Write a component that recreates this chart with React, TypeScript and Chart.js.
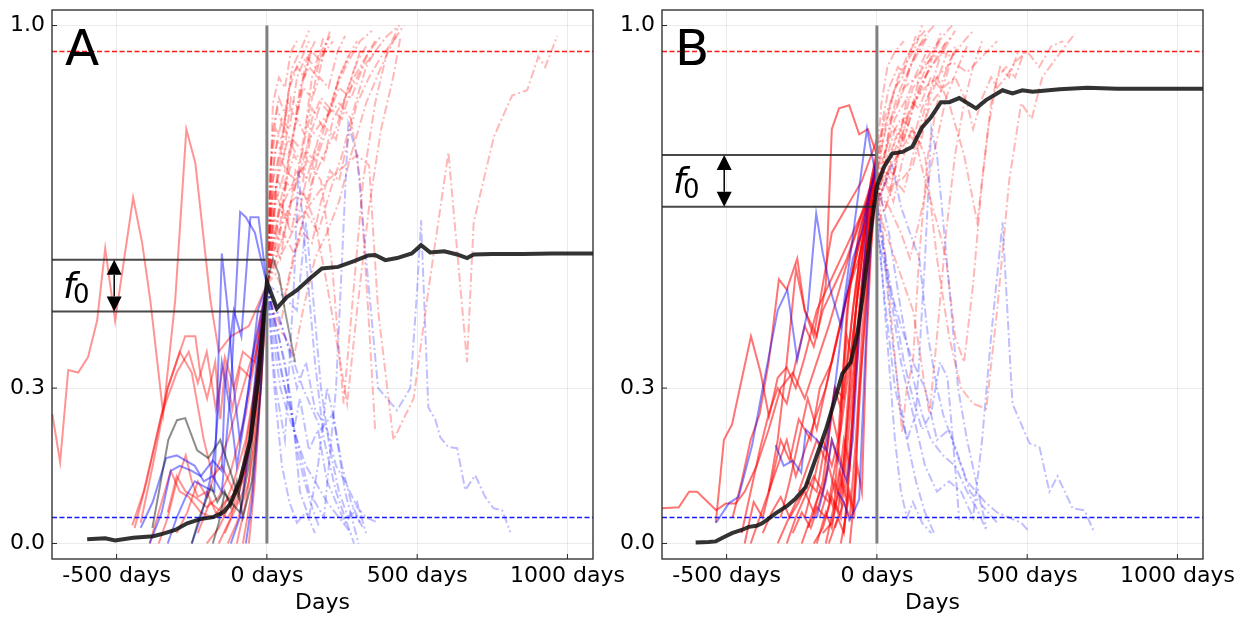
import React, { useEffect, useRef } from "react";
import { Chart, registerables } from "chart.js";
Chart.register(...registerables);

type P = [number, number];

const X_TICKS = [-500, 0, 500, 1000];
const Y_TICKS = [0, 0.3, 1.0];
const X_MIN = -715;
const X_MAX = 1085;
const Y_MIN = -0.03;
const Y_MAX = 1.03;
const UPPER = 0.95;
const LOWER = 0.05;
const F0_A = [0.548, 0.448];
const F0_B = [0.75, 0.65];
const ARROW_DAY = -508;

// ---------- Panel A ----------
const A_RED_PRE: P[][] = [
  [[-714,0.25],[-688,0.157],[-661,0.335],[-628,0.33],[-595,0.36],[-565,0.43],[-538,0.57],[-505,0.43],[-445,0.668],[-415,0.58],[-388,0.47],[-345,0.25],[-305,0.47],[-268,0.8],[-238,0.734],[-188,0.47],[-160,0.37],[-120,0.4],[-60,0.42],[0,0.5]],
  [[-420,0.04],[-380,0.15],[-330,0.3],[-272,0.4],[-238,0.4],[-222,0.33],[-199,0.28],[-172,0.35],[-155,0.24],[-139,0.34],[-115,0.26],[-89,0.34],[-55,0.32],[-25,0.4],[0,0.5]],
  [[-440,0.03],[-400,0.12],[-350,0.25],[-300,0.33],[-260,0.37],[-230,0.31],[-200,0.37],[-170,0.26],[-140,0.36],[-110,0.3],[-80,0.37],[-40,0.35],[0,0.5]],
  [[-390,0.0],[-350,0.08],[-320,0.14],[-290,0.1],[-260,0.09],[-220,0.06],[-180,0.05],[-140,0.08],[-100,0.1],[-50,0.2],[0,0.5]],
  [[-330,0.06],[-300,0.13],[-270,0.1],[-240,0.09],[-200,0.07],[-160,0.09],[-120,0.14],[-70,0.25],[0,0.5]],
  [[-448,0.035],[-410,0.1],[-370,0.2],[-330,0.3],[-290,0.37],[-250,0.33],[-210,0.2],[-180,0.13],[-150,0.15],[-110,0.1],[-70,0.14],[-30,0.3],[0,0.5]],
  [[-360,0.0],[-330,0.05],[-300,0.12],[-270,0.17],[-250,0.12],[-230,0.09],[-200,0.1],[-170,0.06],[-130,0.05],[-100,0.08],[-60,0.18],[0,0.5]],
  [[-160,0.0],[-120,0.05],[-80,0.15],[-40,0.3],[0,0.5]],
  [[-130,0.0],[-100,0.04],[-60,0.12],[-30,0.28],[0,0.5]],
  [[-100,0.0],[-70,0.08],[-40,0.2],[0,0.5]],
  [[-200,0.0],[-160,0.03],[-120,0.08],[-80,0.12],[-40,0.25],[0,0.5]],
  [[-80,0.0],[-50,0.1],[-20,0.3],[0,0.5]],
  [[-230,0.02],[-190,0.08],[-150,0.06],[-110,0.12],[-70,0.2],[-35,0.32],[0,0.5]],
  [[-300,0.02],[-265,0.06],[-230,0.12],[-200,0.09],[-170,0.14],[-130,0.2],[-90,0.28],[-50,0.36],[0,0.5]],
  [[-140,0.02],[-110,0.06],[-80,0.1],[-55,0.2],[-25,0.36],[0,0.5]],
  [[-60,0.0],[-40,0.12],[-20,0.3],[0,0.5]],
];

const A_BLUE_PRE: P[][] = [
  [[-420,0.03],[-380,0.08],[-335,0.165],[-300,0.17],[-270,0.16],[-240,0.15],[-210,0.12],[-180,0.13],[-150,0.1],[-120,0.3],[-89,0.64],[-70,0.63],[-40,0.6],[0,0.5]],
  [[-390,0.0],[-350,0.06],[-320,0.14],[-290,0.15],[-250,0.14],[-220,0.13],[-180,0.16],[-150,0.14],[-140,0.3],[-110,0.45],[-85,0.4],[-55,0.63],[-28,0.63],[0,0.5]],
  [[-330,0.0],[-300,0.05],[-270,0.09],[-240,0.12],[-210,0.11],[-175,0.1],[-150,0.56],[-130,0.45],[-110,0.3],[-90,0.2],[-60,0.3],[-30,0.45],[0,0.5]],
  [[-250,0.0],[-220,0.05],[-190,0.12],[-170,0.2],[-150,0.35],[-120,0.25],[-100,0.15],[-80,0.22],[-50,0.35],[0,0.5]],
  [[-70,0.0],[-50,0.08],[-30,0.22],[0,0.5]],
  [[-120,0.0],[-90,0.05],[-60,0.18],[-35,0.35],[0,0.5]],
];

const A_GRAY_PRE: P[][] = [
  [[-381,0.03],[-328,0.2],[-299,0.238],[-272,0.242],[-232,0.18],[-195,0.165],[-155,0.2],[-122,0.14],[-95,0.09],[-60,0.2],[-30,0.35],[0,0.5]],
  [[-250,0.0],[-225,0.05],[-205,0.08],[-185,0.11],[-165,0.08],[-145,0.1],[-120,0.08],[-90,0.06],[-60,0.15],[-30,0.3],[0,0.5]],
  [[-180,0.0],[-160,0.04],[-140,0.1],[-120,0.07],[-100,0.12],[-80,0.05],[-50,0.12],[-20,0.3],[0,0.5]],
];

const A_GRAY_POST: P[][] = [
  [[0,0.5],[20,0.55],[40,0.52],[60,0.45],[94,0.35]],
];

const A_RED_POST: P[][] = [
  [[0,0.5],[100,0.62],[200,0.7],[300,0.75],[340,0.73],[370,0.45],[421,0.2],[488,0.28],[540,0.5],[604,0.755],[666,0.35],[688,0.62],[755,0.785],[816,0.865],[866,0.875],[903,0.94],[926,0.92],[966,0.98]],
  [[0,0.5],[40,0.64],[90,0.7],[140,0.74],[180,0.7],[215,0.55],[255,0.27],[290,0.5],[320,0.7],[360,0.85],[400,0.95],[440,1.0]],
  [[0,0.5],[15,0.7],[35,0.78],[55,0.74],[80,0.86],[105,0.84],[130,0.93],[160,0.97]],
  [[0,0.5],[20,0.62],[40,0.75],[65,0.72],[90,0.8],[120,0.88],[150,0.86],[180,0.95],[210,0.98]],
  [[0,0.5],[10,0.6],[30,0.68],[50,0.64],[75,0.76],[100,0.82],[125,0.79],[150,0.9],[180,0.94],[220,0.97]],
  [[0,0.5],[20,0.8],[40,0.86],[60,0.83],[85,0.92],[110,0.95],[140,0.99]],
  [[0,0.5],[25,0.57],[45,0.66],[70,0.62],[95,0.72],[120,0.7],[150,0.8],[180,0.85],[210,0.83],[240,0.9],[270,0.94],[300,0.97]],
  [[0,0.5],[15,0.65],[40,0.72],[60,0.8],[85,0.77],[110,0.88],[140,0.92],[170,0.9],[200,0.97]],
  [[0,0.5],[30,0.55],[55,0.64],[80,0.6],[110,0.68],[140,0.66],[170,0.75],[200,0.8],[230,0.78],[260,0.86],[300,0.9],[340,0.95],[380,0.98]],
  [[0,0.5],[20,0.7],[45,0.76],[70,0.85],[95,0.82],[120,0.9],[150,0.95],[180,0.93],[210,0.99]],
  [[0,0.5],[25,0.6],[50,0.58],[80,0.66],[110,0.72],[140,0.7],[170,0.78],[210,0.84],[250,0.82],[290,0.9],[330,0.94],[360,0.97]],
  [[0,0.5],[10,0.72],[30,0.8],[50,0.78],[75,0.88],[100,0.92],[125,0.9],[150,0.96]],
  [[0,0.5],[30,0.62],[60,0.7],[90,0.68],[120,0.76],[160,0.74],[200,0.82],[240,0.88],[280,0.86],[320,0.92],[360,0.95],[400,0.98],[440,1.0]],
  [[0,0.5],[20,0.58],[45,0.55],[70,0.64],[100,0.62],[130,0.7],[160,0.76],[190,0.74],[220,0.82],[260,0.86],[300,0.93],[330,0.96]],
  [[0,0.5],[15,0.66],[35,0.7],[60,0.68],[85,0.78],[115,0.76],[145,0.85],[175,0.9],[205,0.88],[235,0.95],[260,0.98]],
  [[0,0.5],[25,0.75],[50,0.82],[75,0.8],[100,0.9],[130,0.94],[160,0.92],[190,0.98]],
  [[0,0.5],[30,0.52],[60,0.48],[90,0.56],[120,0.6],[150,0.58],[180,0.66],[210,0.72],[240,0.7],[270,0.78],[300,0.85],[340,0.9],[380,0.94],[420,0.97],[455,1.0]],
  [[0,0.5],[20,0.64],[40,0.6],[65,0.7],[90,0.75],[120,0.72],[150,0.82],[180,0.86],[210,0.84],[240,0.9],[280,0.95]],
  [[0,0.5],[30,0.66],[60,0.72],[100,0.7],[140,0.78],[190,0.82],[240,0.85],[280,0.82],[310,0.7],[340,0.42],[360,0.22]],
  [[0,0.5],[40,0.6],[80,0.66],[120,0.68],[160,0.62],[200,0.5],[267,0.27],[300,0.45],[340,0.65],[380,0.8],[420,0.9],[445,0.98]],
  [[0,0.5],[30,0.42],[60,0.4],[90,0.36],[120,0.45],[160,0.55],[200,0.6],[240,0.66],[280,0.75],[330,0.85],[380,0.92],[430,0.98]],
  [[0,0.5],[20,0.45],[45,0.42],[70,0.5],[110,0.6],[150,0.7],[190,0.75],[230,0.8],[270,0.88],[310,0.95]],
  [[0,0.5],[20,0.85],[40,0.9],[60,0.88],[80,0.95],[100,0.97]],
  [[0,0.5],[35,0.7],[70,0.78],[110,0.74],[150,0.84],[190,0.8],[230,0.88],[270,0.93],[310,0.97],[350,0.99]],
  [[0,0.5],[25,0.54],[55,0.6],[90,0.56],[130,0.64],[170,0.6],[210,0.68],[250,0.75],[290,0.84],[330,0.92],[360,0.95]],
  [[0,0.5],[15,0.76],[35,0.84],[55,0.8],[80,0.9],[110,0.93],[140,0.97]],
];

const A_BLUE_POST: P[][] = [
  [[0,0.5],[40,0.35],[100,0.2],[140,0.1],[190,0.05],[230,0.3],[271,0.81],[300,0.75],[330,0.55],[370,0.3],[433,0.257],[477,0.3],[500,0.49],[513,0.624],[537,0.263],[560,0.24],[577,0.205],[604,0.186],[633,0.184],[660,0.103],[693,0.132],[726,0.09],[754,0.068],[783,0.064],[810,0.022]],
  [[0,0.5],[30,0.3],[60,0.2],[90,0.5],[105,0.72],[130,0.55],[160,0.35],[190,0.2],[230,0.1],[260,0.05],[290,0.0]],
  [[0,0.5],[20,0.4],[45,0.3],[70,0.25],[100,0.2],[130,0.15],[160,0.12],[200,0.08],[240,0.05],[280,0.02]],
  [[0,0.5],[30,0.42],[60,0.35],[90,0.22],[110,0.28],[140,0.18],[170,0.22],[200,0.12],[230,0.08],[260,0.04],[290,0.06],[320,0.03]],
  [[0,0.5],[25,0.3],[50,0.15],[75,0.08],[100,0.04],[130,0.06],[160,0.02]],
  [[0,0.5],[35,0.45],[70,0.38],[100,0.3],[130,0.35],[160,0.26],[200,0.22],[230,0.15],[260,0.12],[300,0.07],[330,0.05],[370,0.04]],
  [[0,0.5],[40,0.4],[80,0.28],[110,0.1],[140,0.05],[170,0.15],[200,0.3],[220,0.25],[250,0.15],[280,0.08],[310,0.04]],
  [[0,0.5],[50,0.48],[100,0.45],[130,0.62],[150,0.5],[180,0.3],[210,0.18],[240,0.1],[270,0.05],[300,0.08],[330,0.02]],
  [[0,0.5],[60,0.4],[120,0.3],[180,0.22],[220,0.25],[260,0.1],[305,0.0]],
  [[0,0.5],[20,0.44],[40,0.36],[60,0.3],[80,0.26],[100,0.18],[125,0.12],[150,0.07],[175,0.03]],
];

const A_MEAN: P[] = [[-598,0.008],[-538,0.01],[-505,0.006],[-445,0.011],[-378,0.014],[-345,0.019],[-305,0.026],[-265,0.039],[-222,0.047],[-178,0.051],[-145,0.06],[-122,0.076],[-89,0.122],[-55,0.2],[-29,0.315],[0,0.505],[33,0.454],[65,0.475],[100,0.489],[144,0.512],[183,0.531],[237,0.534],[290,0.545],[337,0.556],[360,0.557],[394,0.547],[433,0.551],[482,0.56],[513,0.576],[543,0.562],[590,0.564],[633,0.558],[666,0.551],[688,0.558],[750,0.559],[850,0.559],[950,0.56],[1085,0.56]];

// ---------- Panel B ----------
const B_RED_PRE: P[][] = [
  [[-536,0.04],[-509,0.2],[-482,0.23],[-419,0.4],[-387,0.33],[-359,0.245],[-330,0.32],[-300,0.34],[-270,0.3],[-240,0.36],[-200,0.45],[-160,0.5],[-120,0.55],[-80,0.6],[-40,0.65],[0,0.72]],
  [[-480,0.05],[-450,0.12],[-420,0.2],[-390,0.25],[-360,0.35],[-326,0.51],[-300,0.49],[-265,0.55],[-240,0.45],[-200,0.4],[-170,0.5],[-150,0.8],[-126,0.84],[-92,0.846],[-59,0.79],[-30,0.8],[0,0.75]],
  [[-717,0.068],[-659,0.07],[-625,0.1],[-598,0.1],[-535,0.064],[-503,0.077],[-470,0.077],[-440,0.1],[-400,0.15],[-360,0.22],[-320,0.3],[-280,0.33],[-240,0.28],[-200,0.35],[-160,0.42],[-120,0.5],[-80,0.58],[-40,0.65],[0,0.7]],
  [[-450,0.02],[-420,0.1],[-390,0.18],[-360,0.25],[-330,0.3],[-300,0.27],[-270,0.35],[-240,0.42],[-210,0.38],[-180,0.45],[-140,0.5],[-100,0.55],[-60,0.62],[0,0.73]],
  [[-420,0.0],[-390,0.05],[-360,0.1],[-330,0.15],[-300,0.2],[-270,0.13],[-240,0.18],[-200,0.25],[-170,0.3],[-130,0.4],[-90,0.5],[-50,0.6],[0,0.7]],
  [[-380,0.02],[-350,0.06],[-320,0.09],[-290,0.05],[-260,0.08],[-230,0.12],[-200,0.1],[-170,0.2],[-140,0.3],[-120,0.26],[-100,0.45],[-60,0.6],[0,0.72]],
  [[-330,0.0],[-300,0.04],[-270,0.08],[-240,0.1],[-210,0.06],[-180,0.12],[-150,0.25],[-130,0.2],[-110,0.35],[-90,0.5],[-50,0.62],[0,0.74]],
  [[-300,0.0],[-270,0.05],[-240,0.09],[-210,0.13],[-180,0.1],[-150,0.2],[-130,0.16],[-110,0.3],[-70,0.5],[-30,0.65],[0,0.7]],
  [[-280,0.02],[-250,0.06],[-220,0.03],[-190,0.08],[-160,0.15],[-140,0.1],[-120,0.25],[-100,0.4],[-80,0.35],[-60,0.55],[-20,0.68],[0,0.72]],
  [[-250,0.0],[-220,0.05],[-190,0.1],[-160,0.08],[-130,0.18],[-110,0.14],[-90,0.3],[-70,0.45],[-40,0.6],[0,0.75]],
  [[-230,0.03],[-200,0.07],[-170,0.05],[-140,0.12],[-120,0.08],[-100,0.25],[-80,0.4],[-50,0.55],[-20,0.7],[0,0.76]],
  [[-200,0.0],[-170,0.06],[-150,0.03],[-130,0.1],[-110,0.2],[-90,0.15],[-70,0.35],[-50,0.5],[-20,0.65],[0,0.72]],
  [[-180,0.02],[-150,0.04],[-120,0.12],[-100,0.08],[-80,0.25],[-60,0.45],[-30,0.62],[0,0.7]],
  [[-160,0.0],[-130,0.05],[-110,0.02],[-90,0.15],[-70,0.32],[-40,0.52],[-15,0.66],[0,0.74]],
  [[-140,0.03],[-110,0.08],[-90,0.05],[-70,0.2],[-50,0.4],[-20,0.62],[0,0.73]],
  [[-120,0.0],[-90,0.1],[-75,0.06],[-60,0.28],[-30,0.5],[0,0.7]],
  [[-360,0.1],[-330,0.2],[-300,0.35],[-269,0.53],[-240,0.45],[-210,0.4],[-180,0.5],[-150,0.6],[-100,0.65],[-50,0.7],[0,0.78]],
  [[-260,0.1],[-230,0.15],[-200,0.2],[-170,0.16],[-140,0.3],[-110,0.28],[-80,0.45],[-50,0.58],[-20,0.7],[0,0.75]],
  [[-240,0.05],[-210,0.12],[-180,0.2],[-150,0.15],[-120,0.22],[-90,0.35],[-60,0.5],[-30,0.65],[0,0.68]],
  [[-320,0.05],[-290,0.12],[-260,0.2],[-230,0.28],[-200,0.22],[-170,0.3],[-140,0.38],[-100,0.48],[-60,0.55],[-20,0.65],[0,0.7]],
  [[-110,0.02],[-95,0.1],[-80,0.06],[-50,0.35],[-20,0.6],[0,0.7]],
  [[-170,0.0],[-140,0.08],[-120,0.05],[-100,0.18],[-80,0.3],[-50,0.48],[-20,0.64],[0,0.76]],
  [[-90,0.0],[-65,0.15],[-50,0.1],[-35,0.38],[-15,0.62],[0,0.72]],
  [[-210,0.0],[-180,0.03],[-150,0.09],[-130,0.06],[-110,0.16],[-90,0.28],[-60,0.42],[-30,0.6],[0,0.7]],
  [[-440,0.0],[-410,0.08],[-380,0.05],[-350,0.12],[-320,0.2],[-290,0.16],[-260,0.24],[-220,0.2],[-190,0.3],[-150,0.35],[-110,0.45],[-70,0.55],[-30,0.66],[0,0.74]],
  [[-190,0.05],[-165,0.1],[-145,0.07],[-125,0.14],[-105,0.1],[-85,0.22],[-65,0.38],[-40,0.55],[-15,0.7],[0,0.74]],
];

const B_BLUE_PRE: P[][] = [
  [[-535,0.04],[-492,0.078],[-460,0.09],[-415,0.19],[-380,0.3],[-330,0.45],[-298,0.49],[-265,0.354],[-230,0.45],[-202,0.637],[-180,0.56],[-150,0.48],[-120,0.42],[-90,0.55],[-33,0.8],[0,0.7]],
  [[-337,0.19],[-310,0.15],[-280,0.16],[-252,0.137],[-236,0.22],[-200,0.2],[-170,0.18],[-140,0.3],[-110,0.45],[-80,0.55],[-50,0.6],[-25,0.68],[0,0.72]],
  [[-130,0.1],[-110,0.08],[-92,0.045],[-70,0.07],[-59,0.085],[-40,0.35],[-20,0.6],[0,0.7]],
  [[-200,0.05],[-170,0.12],[-150,0.2],[-120,0.15],[-100,0.12],[-80,0.2],[-60,0.4],[-30,0.65],[0,0.74]],
];

const B_RED_POST: P[][] = [
  [[0,0.7],[20,0.78],[45,0.85],[70,0.9],[100,0.94],[130,0.97],[160,0.99]],
  [[0,0.68],[25,0.75],[50,0.82],[80,0.86],[110,0.92],[140,0.95],[170,0.98]],
  [[0,0.72],[20,0.82],[40,0.88],[70,0.92],[100,0.9],[130,0.95],[160,0.98],[190,1.0]],
  [[0,0.65],[30,0.7],[60,0.78],[90,0.82],[120,0.88],[150,0.9],[180,0.94],[210,0.97]],
  [[0,0.7],[30,0.74],[60,0.72],[90,0.8],[120,0.85],[150,0.92],[180,0.95],[220,0.98],[250,1.0]],
  [[0,0.66],[25,0.72],[50,0.7],[75,0.76],[100,0.82],[130,0.86],[160,0.9],[190,0.93],[220,0.96],[250,0.98]],
  [[0,0.74],[15,0.85],[35,0.92],[60,0.95],[90,0.97]],
  [[0,0.7],[20,0.72],[45,0.68],[70,0.75],[100,0.8],[140,0.88],[180,0.92],[220,0.95],[260,0.99]],
  [[0,0.62],[30,0.65],[60,0.7],[90,0.68],[120,0.75],[150,0.82],[180,0.88],[210,0.94],[230,0.97]],
  [[0,0.72],[30,0.8],[60,0.84],[90,0.88],[130,0.9],[170,0.93],[210,0.95],[250,0.94],[290,0.97],[320,0.99]],
  [[0,0.7],[40,0.75],[80,0.8],[120,0.85],[160,0.88],[200,0.9],[240,0.85],[290,0.75],[334,0.62],[370,0.8],[400,0.9],[430,0.92],[460,0.9],[490,0.95]],
  [[0,0.68],[40,0.72],[80,0.76],[120,0.8],[160,0.75],[200,0.55],[240,0.4],[280,0.3],[320,0.27],[364,0.26],[400,0.45],[440,0.7],[480,0.85],[515,0.82],[550,0.9],[600,0.94],[640,0.97],[659,0.985]],
  [[0,0.7],[40,0.78],[80,0.82],[120,0.8],[160,0.7],[200,0.62],[230,0.55],[260,0.4],[290,0.35],[320,0.5],[350,0.7],[380,0.85],[410,0.92],[440,0.9],[470,0.95]],
  [[0,0.65],[30,0.6],[60,0.55],[90,0.5],[120,0.45],[140,0.38],[160,0.3],[175,0.25],[200,0.4],[230,0.6],[260,0.75],[290,0.85],[320,0.92],[350,0.97]],
  [[0,0.7],[20,0.6],[45,0.45],[70,0.3],[84,0.215],[100,0.3],[120,0.35],[140,0.55],[170,0.75],[200,0.85],[230,0.9],[260,0.96]],
  [[0,0.68],[20,0.72],[40,0.8],[60,0.85],[80,0.88],[110,0.92],[140,0.96],[170,0.98]],
  [[0,0.75],[25,0.82],[50,0.86],[75,0.9],[100,0.93],[130,0.96],[150,1.0]],
  [[0,0.66],[30,0.7],[60,0.76],[90,0.8],[120,0.78],[150,0.84],[200,0.9],[250,0.93],[300,0.91],[350,0.94],[400,0.97]],
  [[0,0.7],[40,0.72],[80,0.7],[120,0.73],[150,0.8],[180,0.85],[220,0.88],[260,0.9],[300,0.85],[320,0.8],[350,0.86],[380,0.9],[400,0.88],[430,0.9],[460,0.93],[500,0.95],[540,0.92],[580,0.96],[620,0.97]],
  [[0,0.72],[20,0.8],[40,0.83],[60,0.88],[85,0.9],[110,0.95],[130,0.98]],
  [[0,0.66],[30,0.74],[60,0.8],[90,0.78],[120,0.84],[150,0.88],[185,0.94],[215,0.99]],
  [[0,0.7],[25,0.64],[50,0.7],[75,0.78],[100,0.86],[125,0.9],[150,0.93],[175,0.96]],
  [[0,0.68],[40,0.65],[80,0.6],[110,0.55],[140,0.62],[170,0.7],[200,0.78],[230,0.86],[270,0.92],[300,0.96]],
  [[0,0.72],[30,0.76],[60,0.82],[100,0.86],[140,0.84],[180,0.9],[210,0.88],[240,0.93],[270,0.96]],
  [[0,0.64],[25,0.7],[55,0.66],[85,0.74],[115,0.8],[145,0.77],[175,0.86],[205,0.9],[235,0.95]],
];

const B_BLUE_POST: P[][] = [
  [[0,0.65],[40,0.5],[80,0.35],[120,0.25],[160,0.15],[200,0.1],[240,0.12],[280,0.1],[320,0.05],[350,0.2],[380,0.4],[418,0.62],[451,0.27],[508,0.193],[541,0.186],[574,0.1],[601,0.13],[651,0.068],[691,0.064],[724,0.02]],
  [[0,0.62],[30,0.45],[60,0.3],[100,0.2],[130,0.25],[160,0.55],[181,0.8],[200,0.75],[240,0.5],[270,0.3],[300,0.2],[330,0.12],[364,0.03]],
  [[0,0.66],[30,0.7],[51,0.73],[80,0.65],[110,0.6],[141,0.55],[170,0.4],[200,0.3],[220,0.25],[250,0.2],[280,0.15],[310,0.1],[340,0.08],[370,0.06],[400,0.04]],
  [[0,0.64],[20,0.5],[40,0.35],[60,0.2],[80,0.1],[100,0.05],[120,0.08],[150,0.04],[181,0.02]],
  [[0,0.66],[30,0.55],[60,0.45],[90,0.35],[120,0.28],[150,0.22],[180,0.25],[210,0.35],[235,0.32],[260,0.15],[274,0.045]],
  [[0,0.6],[40,0.5],[80,0.42],[120,0.35],[160,0.3],[200,0.2],[240,0.22],[270,0.17],[300,0.12],[330,0.1],[360,0.08],[400,0.06],[440,0.05],[480,0.04],[508,0.022]],
  [[0,0.65],[25,0.55],[50,0.4],[75,0.28],[100,0.2],[130,0.12],[160,0.06],[190,0.02]],
  [[0,0.7],[40,0.6],[80,0.45],[120,0.32],[150,0.25],[180,0.2],[220,0.17],[260,0.15],[300,0.1],[330,0.07],[364,0.026]],
];

const B_MEAN: P[] = [[-603,0.002],[-560,0.003],[-536,0.004],[-510,0.012],[-482,0.02],[-450,0.026],[-426,0.032],[-400,0.034],[-382,0.039],[-360,0.048],[-337,0.058],[-300,0.072],[-270,0.087],[-237,0.109],[-209,0.155],[-170,0.219],[-137,0.283],[-115,0.328],[-87,0.35],[-65,0.405],[-49,0.47],[-32,0.547],[-15,0.63],[0,0.69],[24,0.727],[51,0.753],[85,0.756],[118,0.766],[151,0.804],[180,0.823],[213,0.852],[241,0.852],[274,0.86],[330,0.84],[363,0.856],[418,0.875],[451,0.869],[484,0.875],[518,0.872],[608,0.877],[700,0.88],[800,0.878],[1085,0.878]];

const FONT = '"DejaVu Sans", sans-serif';
const DASHDOT = [9, 3, 2, 3];

type PanelCfg = {
  letter: string;
  redPre: P[][];
  bluePre: P[][];
  grayPre: P[][];
  redPost: P[][];
  bluePost: P[][];
  grayPost: P[][];
  mean: P[];
  f0: number[];
  redPreColor: string;
};

const toXY = (pts: P[]) => pts.map(([x, y]) => ({ x, y }));

function buildDatasets(c: PanelCfg) {
  const ds: any[] = [];
  const line = (pts: P[], color: string, width: number, order: number, dash: number[] = []) =>
    ds.push({
      data: toXY(pts),
      borderColor: color,
      backgroundColor: color,
      borderWidth: width,
      borderDash: dash,
      pointRadius: 0,
      tension: 0,
      fill: false,
      order,
    });
  line(c.mean, "rgba(15,15,15,0.85)", 4, 0);
  line([[0, 0], [0, 1]], "rgba(128,128,128,1)", 3, 1);
  line([[X_MIN, c.f0[0]], [0, c.f0[0]]], "rgba(40,40,40,0.85)", 2, 2);
  line([[X_MIN, c.f0[1]], [0, c.f0[1]]], "rgba(40,40,40,0.85)", 2, 2);
  line([[X_MIN, UPPER], [X_MAX, UPPER]], "#ff1a1a", 1.6, 3, [5, 2.5]);
  line([[X_MIN, LOWER], [X_MAX, LOWER]], "#1a1aff", 1.6, 3, [5, 2.5]);
  c.grayPre.forEach((s) => line(s, "rgba(0,0,0,0.45)", 2, 10));
  c.grayPost.forEach((s) => line(s, "rgba(0,0,0,0.4)", 2, 10));
  c.bluePre.forEach((s) => line(s, "rgba(0,0,255,0.45)", 2, 11));
  c.redPre.forEach((s) => line(s, c.redPreColor, 2, 12));
  c.bluePost.forEach((s) => line(s, "rgba(0,0,255,0.25)", 2, 13, DASHDOT));
  c.redPost.forEach((s) => line(s, "rgba(255,0,0,0.28)", 2, 14, DASHDOT));
  return ds;
}

function makeAnnotPlugin(c: PanelCfg) {
  return {
    id: "annot",
    afterDatasetsDraw(chart: any) {
      const { ctx, chartArea } = chart;
      const xs = chart.scales.x;
      const ys = chart.scales.y;
      ctx.save();
      ctx.setLineDash([]);
      ctx.strokeStyle = "#262626";
      ctx.lineWidth = 1.3;
      ctx.strokeRect(chartArea.left, chartArea.top, chartArea.right - chartArea.left, chartArea.bottom - chartArea.top);
      ctx.lineWidth = 1;
      ctx.beginPath();
      Y_TICKS.forEach((v) => {
        const y = ys.getPixelForValue(v);
        ctx.moveTo(chartArea.left, y);
        ctx.lineTo(chartArea.left + 5, y);
      });
      X_TICKS.forEach((v) => {
        const x = xs.getPixelForValue(v);
        ctx.moveTo(x, chartArea.bottom);
        ctx.lineTo(x, chartArea.bottom - 5);
      });
      ctx.stroke();
      ctx.fillStyle = "#000";
      ctx.font = `50px ${FONT}`;
      ctx.textBaseline = "alphabetic";
      ctx.textAlign = "left";
      ctx.fillText(c.letter, chartArea.left + 13, chartArea.top + 55);
      const ax = xs.getPixelForValue(ARROW_DAY);
      const yTop = ys.getPixelForValue(c.f0[0]);
      const yBot = ys.getPixelForValue(c.f0[1]);
      const hl = 15, hw = 7.5;
      ctx.strokeStyle = "#000";
      ctx.lineWidth = 1.5;
      ctx.beginPath();
      ctx.moveTo(ax, yTop + hl);
      ctx.lineTo(ax, yBot - hl);
      ctx.stroke();
      ctx.beginPath();
      ctx.moveTo(ax, yTop);
      ctx.lineTo(ax - hw, yTop + hl);
      ctx.lineTo(ax + hw, yTop + hl);
      ctx.closePath();
      ctx.fill();
      ctx.beginPath();
      ctx.moveTo(ax, yBot);
      ctx.lineTo(ax - hw, yBot - hl);
      ctx.lineTo(ax + hw, yBot - hl);
      ctx.closePath();
      ctx.fill();
      const cy = (yTop + yBot) / 2;
      ctx.font = `italic 36px ${FONT}`;
      ctx.fillText("f", chartArea.left + 11, cy + 12);
      ctx.font = `26px ${FONT}`;
      ctx.fillText("0", chartArea.left + 21, cy + 17);
      ctx.restore();
    },
  };
}

function makeConfig(c: PanelCfg, padLeft: number, padRight: number): any {
  return {
    type: "line",
    data: { datasets: buildDatasets(c) },
    options: {
      animation: false,
      responsive: false,
      maintainAspectRatio: false,
      devicePixelRatio: 1,
      events: [],
      layout: { padding: { left: padLeft, right: padRight, top: 10, bottom: 0 } },
      plugins: { legend: { display: false }, tooltip: { enabled: false } },
      scales: {
        x: {
          type: "linear",
          min: X_MIN,
          max: X_MAX,
          afterBuildTicks: (s: any) => {
            s.ticks = X_TICKS.map((v) => ({ value: v }));
          },
          afterFit: (s: any) => {
            s.height = 61;
            s.paddingLeft = 0;
            s.paddingRight = 0;
          },
          grid: { color: "rgba(0,0,0,0.08)", lineWidth: 1, drawTicks: false },
          border: { display: false },
          ticks: {
            autoSkip: false,
            maxRotation: 0,
            padding: 4,
            color: "#000",
            font: { family: FONT, size: 22 },
            callback: (v: any) => `${v} days`,
          },
          title: {
            display: true,
            text: "Days",
            color: "#000",
            font: { family: FONT, size: 22 },
            padding: { top: 0, bottom: 4 },
          },
        },
        y: {
          type: "linear",
          min: Y_MIN,
          max: Y_MAX,
          afterBuildTicks: (s: any) => {
            s.ticks = Y_TICKS.map((v) => ({ value: v }));
          },
          afterFit: (s: any) => {
            s.width = 52;
            s.paddingTop = 0;
            s.paddingBottom = 0;
          },
          grid: { color: "rgba(0,0,0,0.08)", lineWidth: 1, drawTicks: false },
          border: { display: false },
          ticks: {
            autoSkip: false,
            padding: 7,
            color: "#000",
            font: { family: FONT, size: 22 },
            callback: (v: any) => Number(v).toFixed(1),
          },
        },
      },
    },
    plugins: [makeAnnotPlugin(c)],
  };
}

const PANEL_A: PanelCfg = {
  letter: "A",
  redPre: A_RED_PRE,
  bluePre: A_BLUE_PRE,
  grayPre: A_GRAY_PRE,
  redPost: A_RED_POST,
  bluePost: A_BLUE_POST,
  grayPost: A_GRAY_POST,
  mean: A_MEAN,
  f0: F0_A,
  redPreColor: "rgba(255,0,0,0.42)",
};

const PANEL_B: PanelCfg = {
  letter: "B",
  redPre: B_RED_PRE,
  bluePre: B_BLUE_PRE,
  grayPre: [],
  redPost: B_RED_POST,
  bluePost: B_BLUE_POST,
  grayPost: [],
  mean: B_MEAN,
  f0: F0_B,
  redPreColor: "rgba(255,0,0,0.55)",
};

function Panel({ cfg, left, width, padLeft, padRight }: { cfg: PanelCfg; left: number; width: number; padLeft: number; padRight: number }) {
  const ref = useRef<HTMLCanvasElement>(null);
  useEffect(() => {
    const chart = new Chart(ref.current as HTMLCanvasElement, makeConfig(cfg, padLeft, padRight));
    return () => chart.destroy();
  }, []);
  return (
    <canvas
      ref={ref}
      width={width}
      height={620}
      style={{ position: "absolute", left, top: 0, width, height: 620 }}
    />
  );
}

export default function App() {
  return (
    <div style={{ position: "absolute", left: 0, top: 0, width: 1239, height: 620, background: "#fff", overflow: "hidden" }}>
      <Panel cfg={PANEL_A} left={0} width={640} padLeft={0} padRight={47} />
      <Panel cfg={PANEL_B} left={600} width={639} padLeft={10} padRight={36} />
    </div>
  );
}
